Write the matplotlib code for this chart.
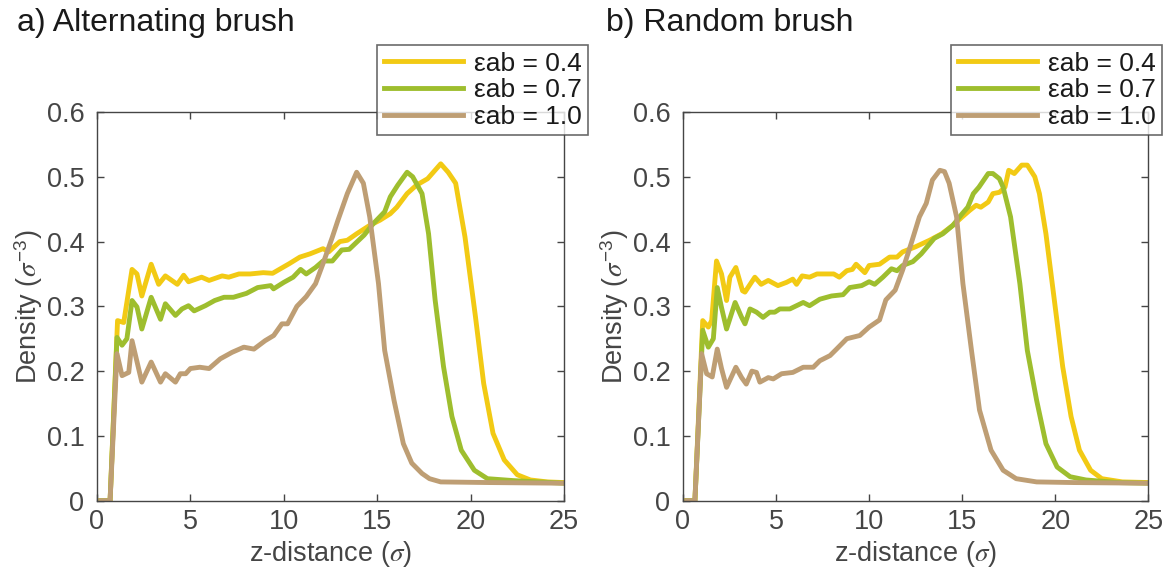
"""Brush density profiles for alternating and random brushes."""
import matplotlib
matplotlib.use("Agg")
import matplotlib.pyplot as plt

plt.rcParams["font.family"] = ["Liberation Sans", "DejaVu Sans"]
plt.rcParams["mathtext.fontset"] = "stix"

LABELS = ["εab = 0.4", "εab = 0.7", "εab = 1.0"]
COLORS = ["#F2CA14", "#9EBE2E", "#BE9E74"]

# a) alternating brush
alt_04_z = [0.2, 0.7, 1.1, 1.43, 1.875, 2.14, 2.4, 2.9, 3.3, 3.66, 4.3, 4.64, 4.9, 5.6, 6.0,
            6.7, 7.05, 7.6, 8.2, 8.9, 9.4, 10.3, 10.86, 11.4, 12.1, 12.4, 13.0, 13.4, 13.9,
            14.6, 15.15, 15.7, 16.05, 16.6, 17.1, 17.7, 18.4, 18.8, 19.2, 19.7, 20.26, 20.7,
            21.2, 21.8, 22.5, 23.2, 24.1, 25.0]
alt_04 = [0, 0, 0.278, 0.275, 0.357, 0.350, 0.316, 0.365, 0.334, 0.347, 0.334, 0.348, 0.338,
          0.345, 0.340, 0.347, 0.345, 0.350, 0.350, 0.352, 0.351, 0.366, 0.376, 0.381, 0.389,
          0.384, 0.400, 0.402, 0.412, 0.425, 0.433, 0.443, 0.453, 0.474, 0.487, 0.497, 0.520,
          0.507, 0.490, 0.407, 0.284, 0.181, 0.104, 0.063, 0.040, 0.032, 0.029, 0.028]

alt_07_z = [0.2, 0.7, 1.07, 1.34, 1.6, 1.875, 2.14, 2.4, 2.9, 3.4, 3.66, 4.2, 4.55, 4.9, 5.2,
            5.8, 6.3, 6.8, 7.3, 8.0, 8.6, 9.3, 9.45, 10.0, 10.5, 10.9, 11.2, 11.7, 12.1, 12.6,
            13.1, 13.5, 14.3, 14.8, 15.4, 15.7, 16.1, 16.6, 16.9, 17.4, 17.75, 18.1, 18.55,
            19.0, 19.5, 20.2, 20.9, 22.3, 25.0]
alt_07 = [0, 0, 0.252, 0.240, 0.250, 0.309, 0.299, 0.265, 0.314, 0.280, 0.304, 0.286, 0.296,
          0.301, 0.293, 0.301, 0.309, 0.314, 0.314, 0.320, 0.329, 0.332, 0.327, 0.337, 0.345,
          0.357, 0.350, 0.360, 0.370, 0.370, 0.387, 0.388, 0.410, 0.428, 0.446, 0.469, 0.487,
          0.507, 0.500, 0.474, 0.412, 0.310, 0.207, 0.130, 0.078, 0.047, 0.034, 0.031, 0.027]

alt_10_z = [0.2, 0.7, 1.07, 1.34, 1.7, 1.875, 2.4, 2.9, 3.4, 3.66, 4.2, 4.46, 4.75, 5.0, 5.5,
            6.0, 6.6, 7.23, 7.86, 8.4, 9.0, 9.46, 9.9, 10.2, 10.7, 11.2, 11.7, 12.1, 12.6,
            12.9, 13.4, 13.9, 14.26, 14.6, 15.07, 15.4, 15.9, 16.4, 16.85, 17.4, 17.8, 18.4,
            21.0, 25.0]
alt_10 = [0, 0, 0.227, 0.193, 0.198, 0.247, 0.183, 0.214, 0.183, 0.196, 0.183, 0.196, 0.196,
          0.204, 0.206, 0.204, 0.219, 0.229, 0.237, 0.234, 0.247, 0.255, 0.273, 0.273, 0.300,
          0.315, 0.335, 0.366, 0.407, 0.433, 0.474, 0.507, 0.490, 0.438, 0.335, 0.232, 0.155,
          0.088, 0.058, 0.042, 0.034, 0.029, 0.028, 0.027]

# b) random brush
rnd_04_z = [0.2, 0.64, 1.06, 1.36, 1.54, 1.8, 2.07, 2.34, 2.52, 2.84, 3.2, 3.33, 3.86, 4.2,
            4.58, 5.1, 5.56, 5.9, 6.1, 6.4, 6.8, 7.2, 8.1, 8.4, 8.8, 9.1, 9.3, 9.77, 10.0,
            10.56, 11.1, 11.5, 11.8, 12.5, 13.25, 13.9, 14.5, 15.0, 15.4, 15.75, 16.0, 16.4,
            16.65, 17.0, 17.3, 17.5, 17.8, 18.2, 18.5, 18.9, 19.15, 19.5, 19.95, 20.4, 20.85,
            21.3, 21.9, 22.5, 23.6, 25.0]
rnd_04 = [0, 0, 0.278, 0.268, 0.278, 0.370, 0.350, 0.309, 0.345, 0.360, 0.324, 0.322, 0.345,
          0.334, 0.340, 0.332, 0.337, 0.342, 0.334, 0.347, 0.345, 0.350, 0.350, 0.345, 0.355,
          0.357, 0.365, 0.352, 0.363, 0.365, 0.376, 0.376, 0.384, 0.392, 0.402, 0.412, 0.425,
          0.438, 0.448, 0.456, 0.453, 0.461, 0.474, 0.476, 0.484, 0.510, 0.505, 0.518, 0.518,
          0.500, 0.474, 0.412, 0.310, 0.207, 0.130, 0.078, 0.047, 0.034, 0.029, 0.028]

rnd_07_z = [0.2, 0.64, 1.06, 1.36, 1.63, 1.84, 2.07, 2.34, 2.8, 3.15, 3.33, 3.6, 3.95, 4.3,
            4.66, 4.93, 5.2, 5.74, 6.46, 6.8, 7.35, 7.98, 8.6, 8.96, 9.6, 10.0, 10.3, 10.74,
            11.2, 11.5, 11.8, 12.35, 12.8, 13.5, 13.96, 14.5, 15.0, 15.3, 15.6, 15.9, 16.4,
            16.65, 17.0, 17.2, 17.6, 18.1, 18.5, 19.0, 19.5, 20.1, 20.8, 21.65, 23.4, 25.0]
rnd_07 = [0, 0, 0.263, 0.237, 0.250, 0.329, 0.298, 0.265, 0.306, 0.283, 0.273, 0.296, 0.291,
          0.283, 0.291, 0.291, 0.296, 0.296, 0.306, 0.301, 0.311, 0.316, 0.318, 0.329, 0.332,
          0.338, 0.334, 0.345, 0.358, 0.355, 0.363, 0.369, 0.381, 0.405, 0.412, 0.425, 0.443,
          0.453, 0.474, 0.484, 0.505, 0.505, 0.497, 0.484, 0.438, 0.335, 0.232, 0.155, 0.088,
          0.052, 0.037, 0.032, 0.028, 0.027]

rnd_10_z = [0.2, 0.64, 1.0, 1.27, 1.57, 1.84, 2.07, 2.34, 2.84, 3.15, 3.4, 3.7, 3.95, 4.13,
            4.58, 4.85, 5.3, 5.9, 6.46, 7.0, 7.35, 7.9, 8.25, 8.8, 9.5, 10.0, 10.56, 10.9,
            11.4, 11.8, 12.26, 12.7, 13.07, 13.4, 13.8, 14.05, 14.3, 14.7, 15.04, 15.5, 15.93,
            16.55, 17.2, 17.9, 19.0, 21.0, 25.0]
rnd_10 = [0, 0, 0.227, 0.196, 0.191, 0.234, 0.204, 0.175, 0.206, 0.190, 0.180, 0.200, 0.198,
          0.183, 0.190, 0.188, 0.196, 0.198, 0.206, 0.206, 0.216, 0.224, 0.234, 0.250, 0.255,
          0.268, 0.279, 0.310, 0.325, 0.356, 0.397, 0.438, 0.459, 0.495, 0.510, 0.508, 0.490,
          0.438, 0.335, 0.232, 0.140, 0.078, 0.047, 0.034, 0.029, 0.028, 0.027]

XTICKS = [0, 5, 10, 15, 20, 25]
YTICKS = [0, 0.1, 0.2, 0.3, 0.4, 0.5, 0.6]
YTICKLABELS = ["0", "0.1", "0.2", "0.3", "0.4", "0.5", "0.6"]

AXIS_COLOR = "#454545"


def draw_panel(axis, curves, title_x, title, legend_anchor):
    for (z, rho), label, color in zip(curves, LABELS, COLORS):
        axis.plot(z, rho, color=color, lw=3.5, label=label, solid_joinstyle="round")
    axis.set_xlim(0, 25)
    axis.set_ylim(0, 0.6)
    axis.set_xticks(XTICKS)
    axis.set_yticks(YTICKS)
    axis.set_yticklabels(YTICKLABELS)
    axis.tick_params(direction="in", length=5, width=1, top=True, right=True,
                     labelsize=19.5, colors=AXIS_COLOR)
    axis.tick_params(axis="y", pad=9)
    axis.tick_params(axis="x", pad=6)
    for spine in axis.spines.values():
        spine.set_color(AXIS_COLOR)
        spine.set_linewidth(1)
    axis.set_xlabel(r"z-distance ($\sigma$)", fontsize=19.5, color=AXIS_COLOR, labelpad=3)
    axis.set_ylabel(r"Density ($\sigma^{\mathregular{-3}}$)", fontsize=19.5,
                    color=AXIS_COLOR, labelpad=1)
    axis.figure.text(title_x, 1 - 23 / 574, title, fontsize=23, color="#1a1a1a",
                     ha="left", va="center")
    legend = axis.legend(loc="upper right", bbox_to_anchor=legend_anchor,
                         bbox_transform=axis.figure.transFigure, fontsize=19,
                         frameon=True, fancybox=False, handlelength=3.0,
                         labelspacing=0.1, borderpad=0.25, handletextpad=0.4,
                         borderaxespad=0)
    legend.get_frame().set_edgecolor(AXIS_COLOR)
    legend.get_frame().set_linewidth(1.2)
    for text in legend.get_texts():
        text.set_color("#1a1a1a")


def main():
    figure = plt.figure(figsize=(11.64, 5.74), dpi=100)
    left = figure.add_axes([97 / 1164, 0.1277, 467 / 1164, 0.6772])
    right = figure.add_axes([683 / 1164, 0.1277, 465.3 / 1164, 0.6772])

    draw_panel(left, [(alt_04_z, alt_04), (alt_07_z, alt_07), (alt_10_z, alt_10)],
               17 / 1164, "a) Alternating brush", (588 / 1164, 1 - 45 / 574))
    draw_panel(right, [(rnd_04_z, rnd_04), (rnd_07_z, rnd_07), (rnd_10_z, rnd_10)],
               606 / 1164, "b) Random brush", (1162 / 1164, 1 - 45 / 574))

    figure.savefig("out.png", dpi=100, facecolor="white")


if __name__ == "__main__":
    main()
